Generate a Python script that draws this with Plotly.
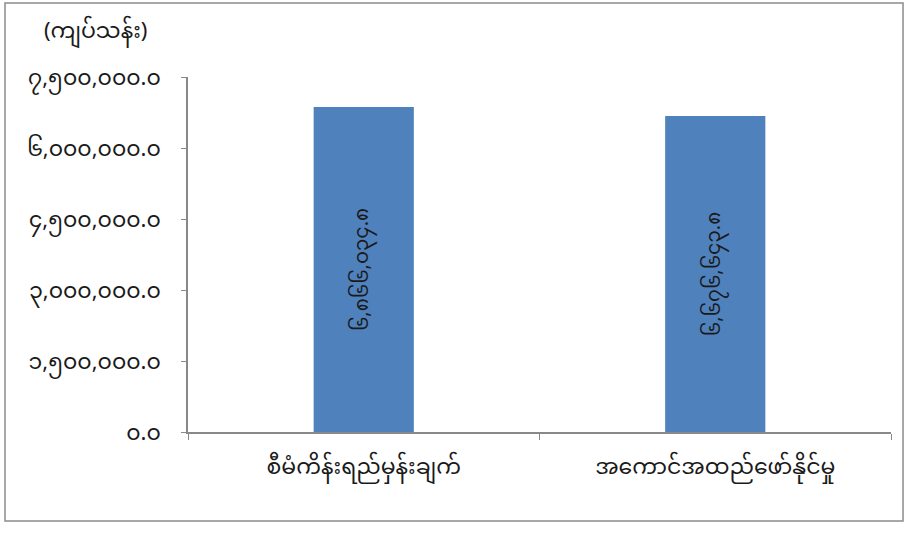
import plotly.graph_objects as go

# categories and values (kyat million)
categories = ["စီမံကိန်းရည်မှန်းချက်", "အကောင်အထည်ဖော်နိုင်မှု"]
values = [6866034.8, 6676643.8]
y_ticks = [0, 1500000, 3000000, 4500000, 6000000, 7500000]
unit_label = "(ကျပ်သန်း)"

MM_DIGITS = str.maketrans("0123456789", "၀၁၂၃၄၅၆၇၈၉")


def mm_num(v):
    return f"{v:,.1f}".translate(MM_DIGITS)


font_family = "Noto Sans Myanmar, Padauk, Myanmar Text, Noto Sans, sans-serif"

fig = go.Figure()
fig.add_trace(go.Bar(
    x=categories, y=values,
    marker=dict(color="#4F81BD", line=dict(width=0)),
    text=[mm_num(v) for v in values],
    textposition="inside", textangle=-90, insidetextanchor="middle",
    textfont=dict(size=20, color="#1a1a1a", family=font_family),
    hoverinfo="skip",
))

fig.update_layout(
    width=909, height=535,
    margin=dict(l=188, r=18, t=77, b=103),
    paper_bgcolor="white", plot_bgcolor="white",
    font=dict(family=font_family, size=22, color="#262626"),
    bargap=0.715,
    showlegend=False,
    xaxis=dict(
        showline=True, linecolor="#888888", linewidth=1.5,
        ticks="outside", tickson="boundaries", ticklen=6, tickcolor="#888888",
        tickfont=dict(size=22, color="#1a1a1a"),
        ticklabelstandoff=14,
        showgrid=False, zeroline=False,
    ),
    yaxis=dict(
        range=[0, 7500000],
        tickvals=y_ticks, ticktext=[mm_num(v) for v in y_ticks],
        showline=True, linecolor="#888888", linewidth=1.5,
        ticks="outside", ticklen=5, tickcolor="#888888",
        tickfont=dict(size=22, color="#1a1a1a"),
        ticklabelstandoff=16,
        showgrid=False, zeroline=False,
    ),
    annotations=[dict(
        text=unit_label, xref="paper", yref="paper",
        x=-0.132, y=1.124, xanchor="center", yanchor="middle",
        showarrow=False, font=dict(size=22, color="#1a1a1a"),
    )],
    shapes=[dict(
        type="rect", xref="paper", yref="paper",
        x0=-0.2603, x1=1.0171, y0=-0.2507, y1=1.2085,
        line=dict(color="#8c8c8c", width=1.5), fillcolor="rgba(0,0,0,0)",
        layer="below",
    )],
)

fig.write_html("out.html", config={"displayModeBar": False},
               post_script="document.body.style.margin='0';")
